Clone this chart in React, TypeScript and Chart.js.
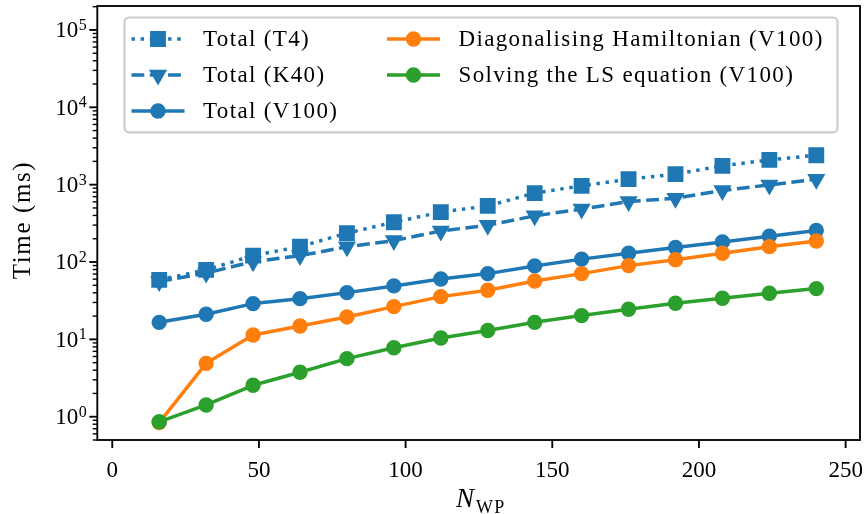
import React, { useEffect, useRef } from 'react';
import { Chart, registerables } from 'chart.js';

Chart.register(...registerables);

// Number of wave packets and the measured run times (ms)
const nWP = [16, 32, 48, 64, 80, 96, 112, 128, 144, 160, 176, 192, 208, 224, 240];
const totalT4 = [58.7, 79, 121, 158, 236, 327, 441, 532, 777, 966, 1177, 1368, 1750, 2090, 2400];
const totalK40 = [56, 72, 101, 121, 157, 189, 252, 299, 395, 483, 605, 668, 839, 993, 1175];
const totalV100 = [16.6, 21.1, 29, 33.6, 40.2, 49.1, 60.4, 70.8, 89, 109, 130, 154, 182, 216, 255];
const diagV100 = [0.84, 4.9, 11.4, 14.9, 19.5, 26.5, 35.7, 43.2, 56.9, 70.8, 89.8, 107, 130, 158, 187];
const lsV100 = [0.86, 1.42, 2.55, 3.75, 5.63, 7.8, 10.4, 13.0, 16.6, 20.3, 24.5, 29.3, 34.0, 39.5, 45.3];

const seriesLabels = [
  'Total (T4)',
  'Total (K40)',
  'Total (V100)',
  'Diagonalising Hamiltonian (V100)',
  'Solving the LS equation (V100)',
];
// legend is laid out column by column
const legendColumns = [[0, 1, 2], [3, 4]];

const xTickValues = [0, 50, 100, 150, 200, 250];
const yDecades = [0, 1, 2, 3, 4, 5];

const X_MIN = -5.1;
const X_MAX = 254.9;
const Y_MIN = 0.5;
const Y_MAX = 2.04e5;

const BLUE = '#1f77b4';
const ORANGE = '#ff7f0e';
const GREEN = '#2ca02c';
const SERIF = '"Liberation Serif", "DejaVu Serif", serif';
const FS = 23;
const LINE_W = 3.5;
const DOTTED = [3.45, 5.7];
const DASHED = [12.8, 5.5];

type Marker = 'circle' | 'rect' | 'triangle';
interface SeriesStyle {
  color: string;
  dash: number[];
  marker: Marker;
}

const styles: SeriesStyle[] = [
  { color: BLUE, dash: DOTTED, marker: 'rect' },
  { color: BLUE, dash: DASHED, marker: 'triangle' },
  { color: BLUE, dash: [], marker: 'circle' },
  { color: ORANGE, dash: [], marker: 'circle' },
  { color: GREEN, dash: [], marker: 'circle' },
];

const seriesValues = [totalT4, totalK40, totalV100, diagV100, lsV100];

const markerRadius: Record<Marker, number> = { circle: 6.7, rect: 9.8, triangle: 8.5 };

function spacing(ctx: CanvasRenderingContext2D, px: number) {
  (ctx as any).letterSpacing = `${px}px`;
}

function drawMarker(ctx: CanvasRenderingContext2D, m: Marker, x: number, y: number, color: string) {
  const r = markerRadius[m];
  ctx.save();
  ctx.setLineDash([]);
  ctx.fillStyle = color;
  ctx.strokeStyle = color;
  ctx.lineWidth = 2;
  ctx.lineJoin = 'miter';
  ctx.beginPath();
  if (m === 'circle') {
    ctx.arc(x, y, r, 0, Math.PI * 2);
  } else if (m === 'rect') {
    const s = Math.SQRT1_2 * r;
    ctx.rect(x - s, y - s, 2 * s, 2 * s);
  } else {
    ctx.moveTo(x, y + r);
    ctx.lineTo(x - r * Math.sin(Math.PI / 3), y - r / 2);
    ctx.lineTo(x + r * Math.sin(Math.PI / 3), y - r / 2);
    ctx.closePath();
  }
  ctx.fill();
  ctx.stroke();
  ctx.restore();
}

const axesPlugin = {
  id: 'serifAxes',
  afterDatasetsDraw(chart: any) {
    const { ctx, chartArea: a } = chart;
    const xs = chart.scales.x;
    const ys = chart.scales.y;
    ctx.save();
    ctx.strokeStyle = '#000';
    ctx.fillStyle = '#000';
    ctx.lineCap = 'butt';

    // x ticks
    ctx.lineWidth = 1.85;
    for (const v of xTickValues) {
      const px = xs.getPixelForValue(v);
      ctx.beginPath();
      ctx.moveTo(px, a.bottom);
      ctx.lineTo(px, a.bottom + 8);
      ctx.stroke();
    }
    // y ticks, major at decades and minor in between
    for (let e = -1; e <= 5; e++) {
      for (let m = 1; m <= 9; m++) {
        const v = m * Math.pow(10, e);
        if (v < Y_MIN || v > Y_MAX) continue;
        const py = ys.getPixelForValue(v);
        const major = m === 1;
        ctx.lineWidth = major ? 1.85 : 1.4;
        ctx.beginPath();
        ctx.moveTo(a.left, py);
        ctx.lineTo(a.left - (major ? 8 : 4.6), py);
        ctx.stroke();
      }
    }
    // frame
    ctx.lineWidth = 1.85;
    ctx.lineJoin = 'miter';
    ctx.strokeRect(a.left, a.top, a.right - a.left, a.bottom - a.top);

    // x tick labels
    spacing(ctx, 0);
    ctx.font = `${FS}px ${SERIF}`;
    ctx.textAlign = 'center';
    ctx.textBaseline = 'alphabetic';
    for (const v of xTickValues) {
      ctx.fillText(String(v), xs.getPixelForValue(v), a.bottom + 36.7);
    }

    // y tick labels as powers of ten
    ctx.textAlign = 'right';
    const labelRight = a.left - 10.6;
    for (const e of yDecades) {
      const py = ys.getPixelForValue(Math.pow(10, e));
      ctx.font = `16px ${SERIF}`;
      const sup = String(e);
      const w = ctx.measureText(sup).width;
      ctx.fillText(sup, labelRight, py);
      ctx.font = `${FS}px ${SERIF}`;
      ctx.fillText('10', labelRight - w - 0.5, py + 7.3);
    }

    // y axis title
    ctx.save();
    spacing(ctx, 1.6);
    ctx.font = `25px ${SERIF}`;
    ctx.textAlign = 'center';
    ctx.translate(30, (a.top + a.bottom) / 2 - 3);
    ctx.rotate(-Math.PI / 2);
    ctx.fillText('Time (ms)', 0, 0);
    ctx.restore();

    // x axis title: italic N with roman subscript WP
    ctx.textAlign = 'left';
    spacing(ctx, 0);
    ctx.font = `italic 27px ${SERIF}`;
    const wN = ctx.measureText('N').width;
    ctx.font = `18px ${SERIF}`;
    spacing(ctx, 1.2);
    const wSub = ctx.measureText('WP').width;
    const cx = (a.left + a.right) / 2 + 2;
    const x0 = cx - (wN + wSub + 2) / 2;
    spacing(ctx, 0);
    ctx.font = `italic 27px ${SERIF}`;
    ctx.fillText('N', x0, a.bottom + 67);
    spacing(ctx, 1.2);
    ctx.font = `18px ${SERIF}`;
    ctx.fillText('WP', x0 + wN + 2, a.bottom + 72.5);
    ctx.restore();
  },
  afterDraw(chart: any) {
    const { ctx, chartArea: a } = chart;
    const pad = 7;
    const lsp = 0.5 * FS;
    const hl = 53;
    const htp = 18.5;
    const rowH = 24.5;
    const boxLeft = 124.5;
    const boxW = 713;
    const colX = [boxLeft + pad, 387];
    ctx.save();
    ctx.font = `${FS}px ${SERIF}`;
    spacing(ctx, 1.35);
    const nRows = Math.max(...legendColumns.map((c) => c.length));
    const boxH = 2 * 9.2 + nRows * rowH + (nRows - 1) * lsp;
    const top = a.top + 0.5 * FS;

    ctx.beginPath();
    (ctx as any).roundRect(boxLeft, top, boxW, boxH, 4.6);
    ctx.fillStyle = 'rgba(255,255,255,0.8)';
    ctx.fill();
    ctx.lineWidth = 2.1;
    ctx.strokeStyle = '#cccccc';
    ctx.stroke();

    legendColumns.forEach((col, k) => {
      const x = colX[k];
      col.forEach((i, r) => {
        const st = styles[i];
        const cy = top + 9.2 + rowH / 2 + r * (rowH + lsp);
        ctx.save();
        ctx.strokeStyle = st.color;
        ctx.lineWidth = LINE_W;
        ctx.lineCap = 'butt';
        ctx.setLineDash(st.dash);
        ctx.beginPath();
        ctx.moveTo(x, cy);
        ctx.lineTo(x + hl, cy);
        ctx.stroke();
        ctx.restore();
        drawMarker(ctx, st.marker, x + hl / 2, cy, st.color);
        ctx.fillStyle = '#000';
        ctx.textAlign = 'left';
        ctx.textBaseline = 'alphabetic';
        ctx.fillText(seriesLabels[i], x + hl + htp, cy + 7.5);
      });
    });
    ctx.restore();
  },
};

export default function App() {
  const canvasRef = useRef<HTMLCanvasElement | null>(null);

  useEffect(() => {
    document.body.style.margin = '0';
    const canvas = canvasRef.current;
    if (!canvas) return;

    const datasets = seriesValues.map((vals, i) => {
      const st = styles[i];
      return {
        label: seriesLabels[i],
        data: nWP.map((x, j) => ({ x, y: vals[j] })),
        borderColor: st.color,
        backgroundColor: st.color,
        borderWidth: LINE_W,
        borderDash: st.dash,
        borderCapStyle: 'butt' as const,
        borderJoinStyle: 'round' as const,
        pointStyle: st.marker,
        pointRadius: markerRadius[st.marker],
        pointRotation: st.marker === 'triangle' ? 180 : 0,
        pointBorderWidth: 2,
        pointBorderColor: st.color,
        pointBackgroundColor: st.color,
        fill: false,
        tension: 0,
        order: seriesValues.length - i,
      };
    });

    const chart = new Chart(canvas, {
      type: 'line',
      data: { datasets },
      options: {
        animation: false,
        responsive: false,
        events: [],
        layout: { autoPadding: false, padding: { left: 97.3, right: 6, top: 6, bottom: 74 } },
        scales: {
          x: { type: 'linear', min: X_MIN, max: X_MAX, display: false },
          y: { type: 'logarithmic', min: Y_MIN, max: Y_MAX, display: false },
        },
        plugins: {
          legend: { display: false },
          tooltip: { enabled: false },
        },
      },
      plugins: [axesPlugin],
    });

    return () => {
      chart.destroy();
    };
  }, []);

  return (
    <div style={{ width: 866, height: 514, background: '#fff' }}>
      <canvas ref={canvasRef} width={866} height={514} style={{ display: 'block' }} />
    </div>
  );
}
